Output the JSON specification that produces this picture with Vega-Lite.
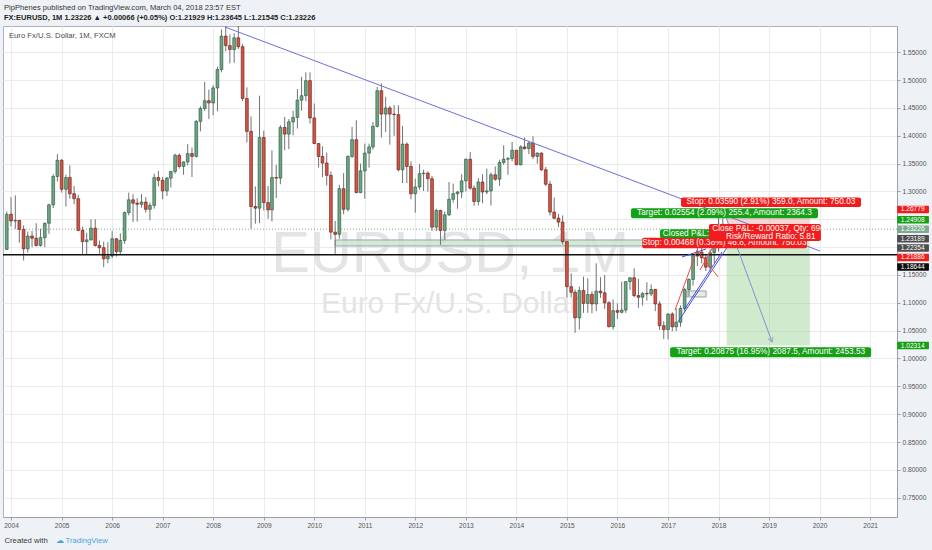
{
  "$schema": "https://vega.github.io/schema/vega-lite/v6.json",
  "width": 894,
  "height": 491,
  "autosize": {"type": "none"},
  "padding": {"left": 3, "top": 26, "right": 35, "bottom": 33},
  "background": "#eef2f6",
  "title": {
    "text": "PipPhenes published on TradingView.com, March 04, 2018 23:57 EST",
    "subtitle": "FX:EURUSD, 1M 1.23226 ▲ +0.00066 (+0.05%) O:1.21929 H:1.23645 L:1.21545 C:1.23226",
    "anchor": "start",
    "frame": "group",
    "dx": 1,
    "offset": 5,
    "fontSize": 7.6,
    "fontWeight": "normal",
    "color": "#333333",
    "subtitleFontSize": 7.5,
    "subtitleFontWeight": "bold",
    "subtitleColor": "#222222",
    "subtitlePadding": 2
  },
  "datasets": {
    "candles": [
      {"t": "2003-12-01", "o": 1.196, "h": 1.264, "l": 1.195, "c": 1.259},
      {"t": "2004-01-01", "o": 1.259, "h": 1.290, "l": 1.237, "c": 1.247},
      {"t": "2004-02-01", "o": 1.247, "h": 1.293, "l": 1.233, "c": 1.248},
      {"t": "2004-03-01", "o": 1.248, "h": 1.249, "l": 1.208, "c": 1.232},
      {"t": "2004-04-01", "o": 1.232, "h": 1.239, "l": 1.176, "c": 1.197},
      {"t": "2004-05-01", "o": 1.197, "h": 1.228, "l": 1.190, "c": 1.220},
      {"t": "2004-06-01", "o": 1.220, "h": 1.229, "l": 1.200, "c": 1.216},
      {"t": "2004-07-01", "o": 1.216, "h": 1.243, "l": 1.201, "c": 1.203},
      {"t": "2004-08-01", "o": 1.203, "h": 1.233, "l": 1.201, "c": 1.217},
      {"t": "2004-09-01", "o": 1.217, "h": 1.244, "l": 1.200, "c": 1.243},
      {"t": "2004-10-01", "o": 1.243, "h": 1.278, "l": 1.224, "c": 1.276},
      {"t": "2004-11-01", "o": 1.276, "h": 1.331, "l": 1.270, "c": 1.327},
      {"t": "2004-12-01", "o": 1.327, "h": 1.367, "l": 1.318, "c": 1.356},
      {"t": "2005-01-01", "o": 1.356, "h": 1.358, "l": 1.298, "c": 1.304},
      {"t": "2005-02-01", "o": 1.304, "h": 1.330, "l": 1.273, "c": 1.325},
      {"t": "2005-03-01", "o": 1.325, "h": 1.347, "l": 1.287, "c": 1.296},
      {"t": "2005-04-01", "o": 1.296, "h": 1.310, "l": 1.277, "c": 1.287},
      {"t": "2005-05-01", "o": 1.287, "h": 1.294, "l": 1.229, "c": 1.230},
      {"t": "2005-06-01", "o": 1.230, "h": 1.237, "l": 1.187, "c": 1.210},
      {"t": "2005-07-01", "o": 1.210, "h": 1.226, "l": 1.187, "c": 1.213},
      {"t": "2005-08-01", "o": 1.213, "h": 1.250, "l": 1.212, "c": 1.234},
      {"t": "2005-09-01", "o": 1.234, "h": 1.250, "l": 1.201, "c": 1.203},
      {"t": "2005-10-01", "o": 1.203, "h": 1.212, "l": 1.188, "c": 1.199},
      {"t": "2005-11-01", "o": 1.199, "h": 1.210, "l": 1.164, "c": 1.179},
      {"t": "2005-12-01", "o": 1.179, "h": 1.209, "l": 1.171, "c": 1.184},
      {"t": "2006-01-01", "o": 1.184, "h": 1.229, "l": 1.180, "c": 1.215},
      {"t": "2006-02-01", "o": 1.215, "h": 1.216, "l": 1.183, "c": 1.192},
      {"t": "2006-03-01", "o": 1.192, "h": 1.225, "l": 1.187, "c": 1.212},
      {"t": "2006-04-01", "o": 1.212, "h": 1.264, "l": 1.206, "c": 1.262},
      {"t": "2006-05-01", "o": 1.262, "h": 1.298, "l": 1.257, "c": 1.285},
      {"t": "2006-06-01", "o": 1.285, "h": 1.295, "l": 1.245, "c": 1.279},
      {"t": "2006-07-01", "o": 1.279, "h": 1.288, "l": 1.246, "c": 1.277},
      {"t": "2006-08-01", "o": 1.277, "h": 1.295, "l": 1.271, "c": 1.281},
      {"t": "2006-09-01", "o": 1.281, "h": 1.290, "l": 1.262, "c": 1.268},
      {"t": "2006-10-01", "o": 1.268, "h": 1.280, "l": 1.248, "c": 1.275},
      {"t": "2006-11-01", "o": 1.275, "h": 1.332, "l": 1.269, "c": 1.325},
      {"t": "2006-12-01", "o": 1.325, "h": 1.337, "l": 1.309, "c": 1.320},
      {"t": "2007-01-01", "o": 1.320, "h": 1.326, "l": 1.286, "c": 1.301},
      {"t": "2007-02-01", "o": 1.301, "h": 1.326, "l": 1.292, "c": 1.324},
      {"t": "2007-03-01", "o": 1.324, "h": 1.337, "l": 1.307, "c": 1.336},
      {"t": "2007-04-01", "o": 1.336, "h": 1.368, "l": 1.332, "c": 1.365},
      {"t": "2007-05-01", "o": 1.365, "h": 1.368, "l": 1.341, "c": 1.345},
      {"t": "2007-06-01", "o": 1.345, "h": 1.354, "l": 1.330, "c": 1.353},
      {"t": "2007-07-01", "o": 1.353, "h": 1.385, "l": 1.347, "c": 1.368},
      {"t": "2007-08-01", "o": 1.368, "h": 1.379, "l": 1.326, "c": 1.363},
      {"t": "2007-09-01", "o": 1.363, "h": 1.428, "l": 1.361, "c": 1.426},
      {"t": "2007-10-01", "o": 1.426, "h": 1.453, "l": 1.408, "c": 1.449},
      {"t": "2007-11-01", "o": 1.449, "h": 1.497, "l": 1.445, "c": 1.463},
      {"t": "2007-12-01", "o": 1.463, "h": 1.483, "l": 1.430, "c": 1.459},
      {"t": "2008-01-01", "o": 1.459, "h": 1.491, "l": 1.437, "c": 1.486},
      {"t": "2008-02-01", "o": 1.486, "h": 1.524, "l": 1.444, "c": 1.519},
      {"t": "2008-03-01", "o": 1.519, "h": 1.591, "l": 1.514, "c": 1.579},
      {"t": "2008-04-01", "o": 1.579, "h": 1.602, "l": 1.552, "c": 1.562},
      {"t": "2008-05-01", "o": 1.562, "h": 1.582, "l": 1.530, "c": 1.555},
      {"t": "2008-06-01", "o": 1.555, "h": 1.584, "l": 1.531, "c": 1.576},
      {"t": "2008-07-01", "o": 1.576, "h": 1.604, "l": 1.556, "c": 1.560},
      {"t": "2008-08-01", "o": 1.560, "h": 1.565, "l": 1.462, "c": 1.467},
      {"t": "2008-09-01", "o": 1.467, "h": 1.487, "l": 1.388, "c": 1.408},
      {"t": "2008-10-01", "o": 1.408, "h": 1.435, "l": 1.233, "c": 1.273},
      {"t": "2008-11-01", "o": 1.273, "h": 1.309, "l": 1.242, "c": 1.270},
      {"t": "2008-12-01", "o": 1.270, "h": 1.472, "l": 1.243, "c": 1.397},
      {"t": "2009-01-01", "o": 1.397, "h": 1.409, "l": 1.266, "c": 1.280},
      {"t": "2009-02-01", "o": 1.280, "h": 1.310, "l": 1.251, "c": 1.267},
      {"t": "2009-03-01", "o": 1.267, "h": 1.374, "l": 1.246, "c": 1.325},
      {"t": "2009-04-01", "o": 1.325, "h": 1.348, "l": 1.288, "c": 1.324},
      {"t": "2009-05-01", "o": 1.324, "h": 1.419, "l": 1.313, "c": 1.415},
      {"t": "2009-06-01", "o": 1.415, "h": 1.434, "l": 1.374, "c": 1.403},
      {"t": "2009-07-01", "o": 1.403, "h": 1.430, "l": 1.376, "c": 1.425},
      {"t": "2009-08-01", "o": 1.425, "h": 1.445, "l": 1.401, "c": 1.433},
      {"t": "2009-09-01", "o": 1.433, "h": 1.484, "l": 1.413, "c": 1.464},
      {"t": "2009-10-01", "o": 1.464, "h": 1.506, "l": 1.445, "c": 1.472},
      {"t": "2009-11-01", "o": 1.472, "h": 1.514, "l": 1.462, "c": 1.499},
      {"t": "2009-12-01", "o": 1.499, "h": 1.514, "l": 1.422, "c": 1.432},
      {"t": "2010-01-01", "o": 1.432, "h": 1.458, "l": 1.385, "c": 1.386},
      {"t": "2010-02-01", "o": 1.386, "h": 1.387, "l": 1.343, "c": 1.363},
      {"t": "2010-03-01", "o": 1.363, "h": 1.381, "l": 1.326, "c": 1.351},
      {"t": "2010-04-01", "o": 1.351, "h": 1.370, "l": 1.311, "c": 1.329},
      {"t": "2010-05-01", "o": 1.329, "h": 1.336, "l": 1.214, "c": 1.227},
      {"t": "2010-06-01", "o": 1.227, "h": 1.247, "l": 1.188, "c": 1.223},
      {"t": "2010-07-01", "o": 1.223, "h": 1.312, "l": 1.215, "c": 1.305},
      {"t": "2010-08-01", "o": 1.305, "h": 1.333, "l": 1.259, "c": 1.268},
      {"t": "2010-09-01", "o": 1.268, "h": 1.365, "l": 1.264, "c": 1.363},
      {"t": "2010-10-01", "o": 1.363, "h": 1.416, "l": 1.360, "c": 1.393},
      {"t": "2010-11-01", "o": 1.393, "h": 1.428, "l": 1.297, "c": 1.298},
      {"t": "2010-12-01", "o": 1.298, "h": 1.350, "l": 1.297, "c": 1.337},
      {"t": "2011-01-01", "o": 1.337, "h": 1.386, "l": 1.287, "c": 1.369},
      {"t": "2011-02-01", "o": 1.369, "h": 1.386, "l": 1.343, "c": 1.380},
      {"t": "2011-03-01", "o": 1.380, "h": 1.425, "l": 1.375, "c": 1.417},
      {"t": "2011-04-01", "o": 1.417, "h": 1.488, "l": 1.415, "c": 1.481},
      {"t": "2011-05-01", "o": 1.481, "h": 1.494, "l": 1.397, "c": 1.439},
      {"t": "2011-06-01", "o": 1.439, "h": 1.470, "l": 1.407, "c": 1.450},
      {"t": "2011-07-01", "o": 1.450, "h": 1.454, "l": 1.384, "c": 1.439},
      {"t": "2011-08-01", "o": 1.439, "h": 1.455, "l": 1.400, "c": 1.438},
      {"t": "2011-09-01", "o": 1.438, "h": 1.455, "l": 1.336, "c": 1.339},
      {"t": "2011-10-01", "o": 1.339, "h": 1.418, "l": 1.315, "c": 1.385},
      {"t": "2011-11-01", "o": 1.385, "h": 1.388, "l": 1.315, "c": 1.345},
      {"t": "2011-12-01", "o": 1.345, "h": 1.354, "l": 1.286, "c": 1.296},
      {"t": "2012-01-01", "o": 1.296, "h": 1.323, "l": 1.262, "c": 1.308},
      {"t": "2012-02-01", "o": 1.308, "h": 1.349, "l": 1.303, "c": 1.332},
      {"t": "2012-03-01", "o": 1.332, "h": 1.339, "l": 1.301, "c": 1.333},
      {"t": "2012-04-01", "o": 1.333, "h": 1.336, "l": 1.300, "c": 1.323},
      {"t": "2012-05-01", "o": 1.323, "h": 1.328, "l": 1.229, "c": 1.236},
      {"t": "2012-06-01", "o": 1.236, "h": 1.269, "l": 1.229, "c": 1.266},
      {"t": "2012-07-01", "o": 1.266, "h": 1.267, "l": 1.204, "c": 1.230},
      {"t": "2012-08-01", "o": 1.230, "h": 1.264, "l": 1.213, "c": 1.258},
      {"t": "2012-09-01", "o": 1.258, "h": 1.317, "l": 1.256, "c": 1.286},
      {"t": "2012-10-01", "o": 1.286, "h": 1.314, "l": 1.280, "c": 1.296},
      {"t": "2012-11-01", "o": 1.296, "h": 1.301, "l": 1.269, "c": 1.299},
      {"t": "2012-12-01", "o": 1.299, "h": 1.331, "l": 1.288, "c": 1.319},
      {"t": "2013-01-01", "o": 1.319, "h": 1.359, "l": 1.300, "c": 1.358},
      {"t": "2013-02-01", "o": 1.358, "h": 1.371, "l": 1.303, "c": 1.306},
      {"t": "2013-03-01", "o": 1.306, "h": 1.311, "l": 1.274, "c": 1.282},
      {"t": "2013-04-01", "o": 1.282, "h": 1.324, "l": 1.275, "c": 1.317},
      {"t": "2013-05-01", "o": 1.317, "h": 1.331, "l": 1.279, "c": 1.299},
      {"t": "2013-06-01", "o": 1.299, "h": 1.341, "l": 1.295, "c": 1.301},
      {"t": "2013-07-01", "o": 1.301, "h": 1.334, "l": 1.275, "c": 1.330},
      {"t": "2013-08-01", "o": 1.330, "h": 1.345, "l": 1.319, "c": 1.322},
      {"t": "2013-09-01", "o": 1.322, "h": 1.357, "l": 1.310, "c": 1.352},
      {"t": "2013-10-01", "o": 1.352, "h": 1.383, "l": 1.348, "c": 1.358},
      {"t": "2013-11-01", "o": 1.358, "h": 1.362, "l": 1.330, "c": 1.359},
      {"t": "2013-12-01", "o": 1.359, "h": 1.389, "l": 1.354, "c": 1.374},
      {"t": "2014-01-01", "o": 1.374, "h": 1.374, "l": 1.348, "c": 1.348},
      {"t": "2014-02-01", "o": 1.348, "h": 1.383, "l": 1.347, "c": 1.380},
      {"t": "2014-03-01", "o": 1.380, "h": 1.397, "l": 1.375, "c": 1.377},
      {"t": "2014-04-01", "o": 1.377, "h": 1.390, "l": 1.367, "c": 1.387},
      {"t": "2014-05-01", "o": 1.387, "h": 1.399, "l": 1.358, "c": 1.363},
      {"t": "2014-06-01", "o": 1.363, "h": 1.370, "l": 1.350, "c": 1.369},
      {"t": "2014-07-01", "o": 1.369, "h": 1.370, "l": 1.337, "c": 1.339},
      {"t": "2014-08-01", "o": 1.339, "h": 1.344, "l": 1.310, "c": 1.313},
      {"t": "2014-09-01", "o": 1.313, "h": 1.319, "l": 1.257, "c": 1.263},
      {"t": "2014-10-01", "o": 1.263, "h": 1.289, "l": 1.250, "c": 1.252},
      {"t": "2014-11-01", "o": 1.252, "h": 1.260, "l": 1.236, "c": 1.245},
      {"t": "2014-12-01", "o": 1.245, "h": 1.257, "l": 1.205, "c": 1.210},
      {"t": "2015-01-01", "o": 1.210, "h": 1.210, "l": 1.109, "c": 1.129},
      {"t": "2015-02-01", "o": 1.129, "h": 1.153, "l": 1.110, "c": 1.119},
      {"t": "2015-03-01", "o": 1.119, "h": 1.124, "l": 1.046, "c": 1.073},
      {"t": "2015-04-01", "o": 1.073, "h": 1.129, "l": 1.052, "c": 1.122},
      {"t": "2015-05-01", "o": 1.122, "h": 1.147, "l": 1.082, "c": 1.099},
      {"t": "2015-06-01", "o": 1.099, "h": 1.144, "l": 1.082, "c": 1.115},
      {"t": "2015-07-01", "o": 1.115, "h": 1.121, "l": 1.081, "c": 1.098},
      {"t": "2015-08-01", "o": 1.098, "h": 1.171, "l": 1.085, "c": 1.121},
      {"t": "2015-09-01", "o": 1.121, "h": 1.146, "l": 1.109, "c": 1.118},
      {"t": "2015-10-01", "o": 1.118, "h": 1.150, "l": 1.089, "c": 1.100},
      {"t": "2015-11-01", "o": 1.100, "h": 1.103, "l": 1.056, "c": 1.057},
      {"t": "2015-12-01", "o": 1.057, "h": 1.106, "l": 1.052, "c": 1.086},
      {"t": "2016-01-01", "o": 1.086, "h": 1.099, "l": 1.071, "c": 1.083},
      {"t": "2016-02-01", "o": 1.083, "h": 1.138, "l": 1.081, "c": 1.087},
      {"t": "2016-03-01", "o": 1.087, "h": 1.139, "l": 1.082, "c": 1.138},
      {"t": "2016-04-01", "o": 1.138, "h": 1.146, "l": 1.123, "c": 1.145},
      {"t": "2016-05-01", "o": 1.145, "h": 1.162, "l": 1.110, "c": 1.113},
      {"t": "2016-06-01", "o": 1.113, "h": 1.143, "l": 1.091, "c": 1.110},
      {"t": "2016-07-01", "o": 1.110, "h": 1.119, "l": 1.095, "c": 1.117},
      {"t": "2016-08-01", "o": 1.117, "h": 1.137, "l": 1.104, "c": 1.116},
      {"t": "2016-09-01", "o": 1.116, "h": 1.133, "l": 1.112, "c": 1.124},
      {"t": "2016-10-01", "o": 1.124, "h": 1.125, "l": 1.085, "c": 1.098},
      {"t": "2016-11-01", "o": 1.098, "h": 1.103, "l": 1.051, "c": 1.059},
      {"t": "2016-12-01", "o": 1.059, "h": 1.067, "l": 1.035, "c": 1.052},
      {"t": "2017-01-01", "o": 1.052, "h": 1.081, "l": 1.034, "c": 1.080},
      {"t": "2017-02-01", "o": 1.080, "h": 1.083, "l": 1.049, "c": 1.057},
      {"t": "2017-03-01", "o": 1.057, "h": 1.090, "l": 1.049, "c": 1.065},
      {"t": "2017-04-01", "o": 1.065, "h": 1.095, "l": 1.057, "c": 1.090},
      {"t": "2017-05-01", "o": 1.090, "h": 1.127, "l": 1.084, "c": 1.124},
      {"t": "2017-06-01", "o": 1.124, "h": 1.144, "l": 1.112, "c": 1.142},
      {"t": "2017-07-01", "o": 1.142, "h": 1.185, "l": 1.131, "c": 1.184},
      {"t": "2017-08-01", "o": 1.184, "h": 1.207, "l": 1.166, "c": 1.191},
      {"t": "2017-09-01", "o": 1.191, "h": 1.209, "l": 1.171, "c": 1.181},
      {"t": "2017-10-01", "o": 1.181, "h": 1.188, "l": 1.157, "c": 1.164},
      {"t": "2017-11-01", "o": 1.164, "h": 1.196, "l": 1.155, "c": 1.190},
      {"t": "2017-12-01", "o": 1.190, "h": 1.202, "l": 1.172, "c": 1.200},
      {"t": "2018-01-01", "o": 1.200, "h": 1.254, "l": 1.192, "c": 1.241},
      {"t": "2018-02-01", "o": 1.241, "h": 1.256, "l": 1.220, "c": 1.219},
      {"t": "2018-03-01", "o": 1.21929, "h": 1.23645, "l": 1.21545, "c": 1.23226}
    ],
    "levels": [
      {"p": 1.23226, "kind": "last"},
      {"p": 1.18644, "kind": "hline"}
    ],
    "zones": [
      {"kind": "band", "t1": "2010-06-01", "t2": "2018-01-11", "p1": 1.2129, "p2": 1.2021},
      {"kind": "box", "t1": "2017-05-18", "t2": "2017-10-03", "p1": 1.1213, "p2": 1.1105},
      {"kind": "risk", "t1": "2018-03-01", "t2": "2019-10-23", "p1": 1.26779, "p2": 1.23189},
      {"kind": "reward", "t1": "2018-03-01", "t2": "2019-10-23", "p1": 1.23189, "p2": 1.02314}
    ],
    "lines": [
      {"kind": "trend", "t1": "2008-03-27", "p1": 1.5954, "t2": "2020-01-04", "p2": 1.1931},
      {"kind": "channel", "t1": "2017-03-14", "p1": 1.0656, "t2": "2018-03-25", "p2": 1.2075},
      {"kind": "channel", "t1": "2017-04-27", "p1": 1.0871, "t2": "2018-01-26", "p2": 1.1913},
      {"kind": "channel", "t1": "2017-04-12", "p1": 1.1823, "t2": "2017-10-03", "p2": 1.1967},
      {"kind": "zig", "t1": "2017-02-21", "p1": 1.0871, "t2": "2017-07-30", "p2": 1.1949},
      {"kind": "zig", "t1": "2017-07-30", "p1": 1.1949, "t2": "2017-12-29", "p2": 1.1464},
      {"kind": "zig", "t1": "2017-08-20", "p1": 1.159, "t2": "2017-11-30", "p2": 1.2039},
      {"kind": "arrow", "t1": "2018-02-10", "p1": 1.263, "t2": "2019-01-23", "p2": 1.0297}
    ],
    "boxes": [
      {"tool": "long", "kind": "target", "t1": "2016-04-08", "t2": "2019-12-21", "p1": 1.2698, "p2": 1.2518},
      {"tool": "long", "kind": "target", "t1": "2016-11-04", "t2": "2019-03-14", "p1": 1.2321, "p2": 1.2159},
      {"tool": "long", "kind": "stop", "t1": "2016-06-28", "t2": "2019-10-02", "p1": 1.2170, "p2": 1.1980},
      {"tool": "short", "kind": "stop", "t1": "2017-04-05", "t2": "2020-10-27", "p1": 1.2892, "p2": 1.2721},
      {"tool": "short", "kind": "stop", "t1": "2017-10-24", "t2": "2020-01-11", "p1": 1.2416, "p2": 1.2111},
      {"tool": "short", "kind": "target", "t1": "2017-01-16", "t2": "2021-01-08", "p1": 1.0201, "p2": 1.0022}
    ],
    "texts": [
      {"tool": "long", "t": "2018-02-13", "p": 1.2608, "text": "Target: 0.02554 (2.09%) 255.4, Amount: 2364.3"},
      {"tool": "long", "t": "2017-05-10", "p": 1.2240, "text": "Closed P&L:"},
      {"tool": "long", "t": "2018-02-13", "p": 1.2075, "text": "Stop: 0.00468 (0.38%) 46.8, Amount: 750.03"},
      {"tool": "short", "t": "2019-01-15", "p": 1.2806, "text": "Stop: 0.03590 (2.91%) 359.0, Amount: 750.03"},
      {"tool": "short", "t": "2019-01-14", "p": 1.2326, "text": "Close P&L: -0.00037, Qty: 6963"},
      {"tool": "short", "t": "2019-01-14", "p": 1.2182, "text": "Risk/Reward Ratio: 5.81"},
      {"tool": "short", "t": "2019-01-14", "p": 1.0112, "text": "Target: 0.20875 (16.95%) 2087.5, Amount: 2453.53"}
    ],
    "tags": [
      {"v": "1.26779", "lvl": 1.26779, "kind": "stop"},
      {"v": "1.24908", "lvl": 1.24908, "kind": "target"},
      {"v": "1.23226", "lvl": 1.23226, "kind": "last"},
      {"v": "1.23189", "lvl": 1.2152, "kind": "entry"},
      {"v": "1.22354", "lvl": 1.1985, "kind": "entry"},
      {"v": "1.21886", "lvl": 1.1816, "kind": "stop"},
      {"v": "1.18644", "lvl": 1.1644, "kind": "line"},
      {"v": "1.02314", "lvl": 1.02314, "kind": "target"}
    ]
  },
  "layer": [
    {
      "data": {"name": "candles"},
      "mark": {"type": "bar", "size": 2.8, "strokeWidth": 0.6, "opacity": 0},
      "encoding": {
        "x": {
          "field": "t", "type": "temporal",
          "scale": {"type": "utc", "domain": [{"year": 2003, "month": 11, "date": 4, "utc": true}, {"year": 2021, "month": 7, "date": 14, "utc": true}], "nice": false, "padding": 0},
          "axis": {
            "orient": "bottom", "format": "%Y", "tickCount": {"interval": "year", "step": 1},
            "grid": true, "gridColor": "#e9ebed", "labelFontSize": 6.6, "labelColor": "#555555",
            "labelPadding": 2, "labelFlush": false, "labelOverlap": false,
            "tickSize": 3, "tickColor": "#9aa0a6", "domainColor": "#9aa0a6",
            "title": "Created with", "titleFontSize": 7.7, "titleFontWeight": "normal", "titleColor": "#3a3a3a",
            "titleAlign": "left", "titleBaseline": "middle", "titleX": 1, "titleY": 23
          }
        },
        "y": {
          "field": "o", "type": "quantitative",
          "scale": {"domain": [0.7153, 1.5972], "zero": false, "nice": false, "padding": 0},
          "axis": {
            "orient": "right", "tickCount": 18, "format": ".5f", "labelOverlap": false, "labelSeparation": 0, "labelBound": false,
            "labelExpr": "abs(datum.value - 1.2) < 0.001 || abs(datum.value - 1.25) < 0.001 ? '' : datum.label",
            "grid": true, "gridColor": "#e9ebed", "labelFontSize": 6.6, "labelColor": "#555555",
            "labelPadding": 2, "tickSize": 3, "tickColor": "#9aa0a6", "domainColor": "#9aa0a6",
            "title": "☁ TradingView", "titleFontSize": 7.7, "titleFontWeight": "normal", "titleColor": "#4aa3df",
            "titleAngle": 0, "titleAlign": "left", "titleBaseline": "middle", "titleX": -842, "titleY": 514
          }
        },
        "y2": {"field": "c"}
      }
    },
    {
      "data": {"values": [{"w": "EURUSD, 1M"}]},
      "mark": {"type": "text", "fontSize": 58, "color": "#e4e4e4", "align": "center", "baseline": "alphabetic"},
      "encoding": {
        "x": {"datum": {"year": 2012, "month": 9, "date": 9, "utc": true}, "type": "temporal", "scale": {"type": "utc", "domain": [{"year": 2003, "month": 11, "date": 4, "utc": true}, {"year": 2021, "month": 7, "date": 14, "utc": true}], "nice": false, "padding": 0}},
        "y": {"datum": 1.1554, "type": "quantitative", "scale": {"domain": [0.7153, 1.5972], "zero": false, "nice": false, "padding": 0}},
        "text": {"field": "w"}
      }
    },
    {
      "data": {"values": [{"w": "Euro Fx/U.S. Dollar"}]},
      "mark": {"type": "text", "fontSize": 30, "color": "#e4e4e4", "align": "center", "baseline": "alphabetic"},
      "encoding": {
        "x": {"datum": {"year": 2012, "month": 9, "date": 9, "utc": true}, "type": "temporal", "scale": {"type": "utc", "domain": [{"year": 2003, "month": 11, "date": 4, "utc": true}, {"year": 2021, "month": 7, "date": 14, "utc": true}], "nice": false, "padding": 0}},
        "y": {"datum": 1.0817, "type": "quantitative", "scale": {"domain": [0.7153, 1.5972], "zero": false, "nice": false, "padding": 0}},
        "text": {"field": "w"}
      }
    },
    {
      "data": {"name": "zones"},
      "mark": {"type": "rect", "strokeWidth": 1},
      "encoding": {
        "x": {"field": "t1", "type": "temporal", "scale": {"type": "utc", "domain": [{"year": 2003, "month": 11, "date": 4, "utc": true}, {"year": 2021, "month": 7, "date": 14, "utc": true}], "nice": false, "padding": 0}},
        "x2": {"field": "t2"},
        "y": {"field": "p1", "type": "quantitative", "scale": {"domain": [0.7153, 1.5972], "zero": false, "nice": false, "padding": 0}},
        "y2": {"field": "p2"},
        "fill": {"condition": [{"test": "datum.kind == 'band'", "value": "#cfe6cb"}, {"test": "datum.kind == 'box'", "value": "#dfe9e2"}, {"test": "datum.kind == 'risk'", "value": "#f28b8b"}], "value": "#8fce88"},
        "fillOpacity": {"condition": [{"test": "datum.kind == 'band'", "value": 0.85}, {"test": "datum.kind == 'box'", "value": 0.9}, {"test": "datum.kind == 'risk'", "value": 0.38}], "value": 0.42},
        "stroke": {"condition": [{"test": "datum.kind == 'band'", "value": "#8ea3b6"}, {"test": "datum.kind == 'box'", "value": "#97a59c"}], "value": null}
      }
    },
    {
      "data": {"name": "levels"},
      "transform": [{"filter": "datum.kind == 'last'"}],
      "mark": {"type": "rule", "color": "#7fa890", "strokeWidth": 1, "strokeDash": [1, 2]},
      "encoding": {
        "y": {"field": "p", "type": "quantitative", "scale": {"domain": [0.7153, 1.5972], "zero": false, "nice": false, "padding": 0}}
      }
    },
    {
      "data": {"name": "candles"},
      "mark": {"type": "rule", "color": "#737375", "strokeWidth": 1, "clip": true},
      "encoding": {
        "x": {"field": "t", "type": "temporal", "scale": {"type": "utc", "domain": [{"year": 2003, "month": 11, "date": 4, "utc": true}, {"year": 2021, "month": 7, "date": 14, "utc": true}], "nice": false, "padding": 0}},
        "y": {"field": "l", "type": "quantitative", "scale": {"domain": [0.7153, 1.5972], "zero": false, "nice": false, "padding": 0}},
        "y2": {"field": "h"}
      }
    },
    {
      "data": {"name": "candles"},
      "mark": {"type": "bar", "size": 2.8, "strokeWidth": 0.6, "clip": true},
      "encoding": {
        "x": {"field": "t", "type": "temporal", "scale": {"type": "utc", "domain": [{"year": 2003, "month": 11, "date": 4, "utc": true}, {"year": 2021, "month": 7, "date": 14, "utc": true}], "nice": false, "padding": 0}},
        "y": {"field": "o", "type": "quantitative", "scale": {"domain": [0.7153, 1.5972], "zero": false, "nice": false, "padding": 0}},
        "y2": {"field": "c"},
        "fill": {"condition": {"test": "datum.c >= datum.o", "value": "#6ba583"}, "value": "#d75442"},
        "stroke": {"condition": {"test": "datum.c >= datum.o", "value": "#225437"}, "value": "#5b1a13"}
      }
    },
    {
      "data": {"name": "levels"},
      "transform": [{"filter": "datum.kind == 'hline'"}],
      "mark": {"type": "rule", "color": "#111111", "strokeWidth": 1.5},
      "encoding": {
        "y": {"field": "p", "type": "quantitative", "scale": {"domain": [0.7153, 1.5972], "zero": false, "nice": false, "padding": 0}}
      }
    },
    {
      "data": {"name": "lines"},
      "mark": {"type": "rule", "strokeWidth": 1, "clip": true},
      "encoding": {
        "x": {"field": "t1", "type": "temporal", "scale": {"type": "utc", "domain": [{"year": 2003, "month": 11, "date": 4, "utc": true}, {"year": 2021, "month": 7, "date": 14, "utc": true}], "nice": false, "padding": 0}},
        "x2": {"field": "t2"},
        "y": {"field": "p1", "type": "quantitative", "scale": {"domain": [0.7153, 1.5972], "zero": false, "nice": false, "padding": 0}},
        "y2": {"field": "p2"},
        "color": {"condition": [{"test": "datum.kind == 'trend'", "value": "#6d6fdc"}, {"test": "datum.kind == 'channel'", "value": "#4a4fd8"}, {"test": "datum.kind == 'zig'", "value": "#f04848"}], "value": "#7d93d3"}
      }
    },
    {
      "data": {"name": "lines"},
      "transform": [{"filter": "datum.kind == 'arrow'"}],
      "mark": {"type": "point", "shape": "M-0.6,-1L0,0L0.6,-1", "filled": false, "angle": 340, "size": 80, "strokeWidth": 1, "color": "#7d93d3"},
      "encoding": {
        "x": {"field": "t2", "type": "temporal", "scale": {"type": "utc", "domain": [{"year": 2003, "month": 11, "date": 4, "utc": true}, {"year": 2021, "month": 7, "date": 14, "utc": true}], "nice": false, "padding": 0}},
        "y": {"field": "p2", "type": "quantitative", "scale": {"domain": [0.7153, 1.5972], "zero": false, "nice": false, "padding": 0}}
      }
    },
    {
      "data": {"name": "boxes"},
      "transform": [{"filter": "datum.tool == 'long'"}],
      "mark": {"type": "rect", "cornerRadius": 2},
      "encoding": {
        "x": {"field": "t1", "type": "temporal", "scale": {"type": "utc", "domain": [{"year": 2003, "month": 11, "date": 4, "utc": true}, {"year": 2021, "month": 7, "date": 14, "utc": true}], "nice": false, "padding": 0}},
        "x2": {"field": "t2"},
        "y": {"field": "p1", "type": "quantitative", "scale": {"domain": [0.7153, 1.5972], "zero": false, "nice": false, "padding": 0}},
        "y2": {"field": "p2"},
        "fill": {"condition": {"test": "datum.kind == 'stop'", "value": "#f21c1c"}, "value": "#15a015"}
      }
    },
    {
      "data": {"name": "texts"},
      "transform": [{"filter": "datum.tool == 'long'"}],
      "mark": {"type": "text", "fontSize": 8.3, "color": "#ffffff", "align": "center", "baseline": "middle"},
      "encoding": {
        "x": {"field": "t", "type": "temporal", "scale": {"type": "utc", "domain": [{"year": 2003, "month": 11, "date": 4, "utc": true}, {"year": 2021, "month": 7, "date": 14, "utc": true}], "nice": false, "padding": 0}},
        "y": {"field": "p", "type": "quantitative", "scale": {"domain": [0.7153, 1.5972], "zero": false, "nice": false, "padding": 0}},
        "text": {"field": "text"}
      }
    },
    {
      "data": {"name": "boxes"},
      "transform": [{"filter": "datum.tool == 'short'"}],
      "mark": {"type": "rect", "cornerRadius": 2},
      "encoding": {
        "x": {"field": "t1", "type": "temporal", "scale": {"type": "utc", "domain": [{"year": 2003, "month": 11, "date": 4, "utc": true}, {"year": 2021, "month": 7, "date": 14, "utc": true}], "nice": false, "padding": 0}},
        "x2": {"field": "t2"},
        "y": {"field": "p1", "type": "quantitative", "scale": {"domain": [0.7153, 1.5972], "zero": false, "nice": false, "padding": 0}},
        "y2": {"field": "p2"},
        "fill": {"condition": {"test": "datum.kind == 'stop'", "value": "#f21c1c"}, "value": "#15a015"}
      }
    },
    {
      "data": {"name": "texts"},
      "transform": [{"filter": "datum.tool == 'short'"}],
      "mark": {"type": "text", "fontSize": 8.3, "color": "#ffffff", "align": "center", "baseline": "middle"},
      "encoding": {
        "x": {"field": "t", "type": "temporal", "scale": {"type": "utc", "domain": [{"year": 2003, "month": 11, "date": 4, "utc": true}, {"year": 2021, "month": 7, "date": 14, "utc": true}], "nice": false, "padding": 0}},
        "y": {"field": "p", "type": "quantitative", "scale": {"domain": [0.7153, 1.5972], "zero": false, "nice": false, "padding": 0}},
        "text": {"field": "text"}
      }
    },
    {
      "data": {"values": [{"w": "Euro Fx/U.S. Dollar, 1M, FXCM"}]},
      "mark": {"type": "text", "fontSize": 7.7, "color": "#4a4a4a", "align": "left", "baseline": "middle"},
      "encoding": {
        "x": {"datum": {"year": 2003, "month": 12, "date": 17, "utc": true}, "type": "temporal", "scale": {"type": "utc", "domain": [{"year": 2003, "month": 11, "date": 4, "utc": true}, {"year": 2021, "month": 7, "date": 14, "utc": true}], "nice": false, "padding": 0}},
        "y": {"datum": 1.5793, "type": "quantitative", "scale": {"domain": [0.7153, 1.5972], "zero": false, "nice": false, "padding": 0}},
        "text": {"field": "w"}
      }
    },
    {
      "data": {"name": "tags"},
      "mark": {"type": "bar", "size": 7.5, "cornerRadius": 1, "clip": false},
      "encoding": {
        "x": {"datum": {"year": 2021, "month": 7, "date": 15, "utc": true}, "type": "temporal", "scale": {"type": "utc", "domain": [{"year": 2003, "month": 11, "date": 4, "utc": true}, {"year": 2021, "month": 7, "date": 14, "utc": true}], "nice": false, "padding": 0}},
        "x2": {"datum": {"year": 2022, "month": 3, "date": 2, "utc": true}},
        "y": {"field": "lvl", "type": "quantitative", "scale": {"domain": [0.7153, 1.5972], "zero": false, "nice": false, "padding": 0}},
        "fill": {"condition": [{"test": "datum.kind == 'stop'", "value": "#f21c1c"}, {"test": "datum.kind == 'target'", "value": "#15a015"}, {"test": "datum.kind == 'last'", "value": "#7fa890"}, {"test": "datum.kind == 'entry'", "value": "#4d4d4d"}], "value": "#0d0d0d"}
      }
    },
    {
      "data": {"name": "tags"},
      "mark": {"type": "text", "fontSize": 6.6, "color": "#ffffff", "align": "center", "baseline": "middle", "clip": false},
      "encoding": {
        "x": {"datum": {"year": 2021, "month": 11, "date": 4, "utc": true}, "type": "temporal", "scale": {"type": "utc", "domain": [{"year": 2003, "month": 11, "date": 4, "utc": true}, {"year": 2021, "month": 7, "date": 14, "utc": true}], "nice": false, "padding": 0}},
        "y": {"field": "lvl", "type": "quantitative", "scale": {"domain": [0.7153, 1.5972], "zero": false, "nice": false, "padding": 0}},
        "text": {"field": "v"}
      }
    }
  ],
  "config": {
    "font": "Liberation Sans",
    "view": {"stroke": "#b0b4b8", "fill": "#ffffff"},
    "axis": {"labelOverlap": false}
  }
}
